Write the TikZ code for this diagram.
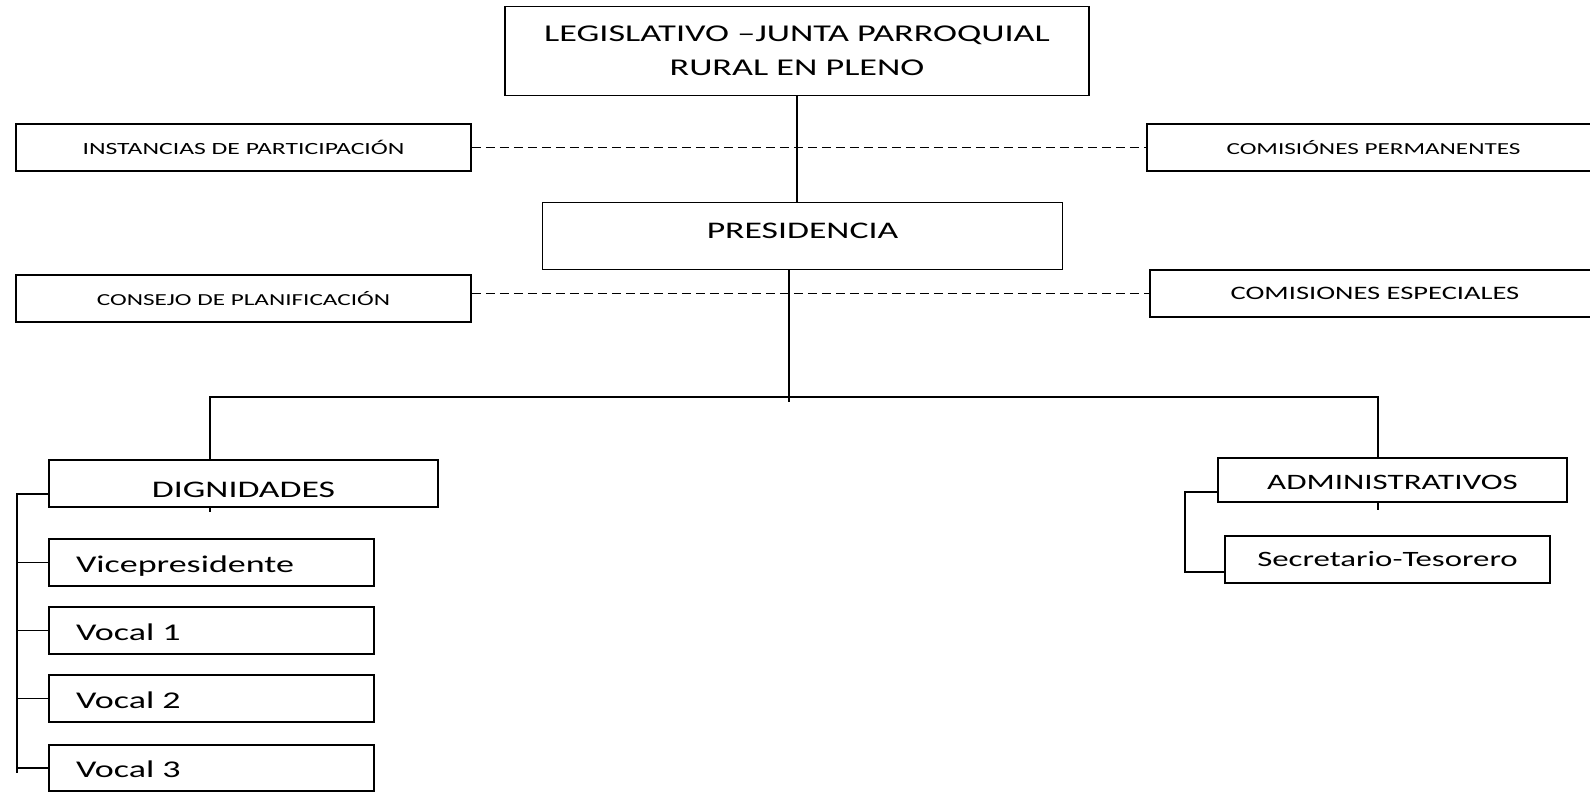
\documentclass[tikz,border=0pt]{standalone}
\usepackage{fontspec}
\setmainfont{Carlito}[FakeStretch=1.5]
\begin{document}
\begin{tikzpicture}[x=1pt,y=-1pt,
 caja/.style={draw,line width=1.9pt,inner sep=0pt,align=center},
 cargo/.style={caja,minimum width=325,minimum height=47,text width=271pt,inner xsep=27pt,align=left,font=\fontsize{24}{28}\selectfont,text height=21pt,text depth=2pt},
 linea/.style={line width=1.9pt},
 punteada/.style={line width=1.5pt,dash pattern=on 9pt off 5pt},
 grande/.style={font=\fontsize{24.1}{34}\selectfont},
 chica/.style={font=\fontsize{16.8}{20}\selectfont}]
 \useasboundingbox (0,0) rectangle (1590,792);
 % cabeza
 \node [caja,grande,minimum width=584,minimum height=89] (legislativo) at (797,51) {LEGISLATIVO –JUNTA PARROQUIAL\\RURAL EN PLENO};
 \node [caja,font=\fontsize{23.8}{34}\selectfont,minimum width=520,minimum height=67,text height=15pt,text depth=11pt] (presidencia) at (802.5,236) {PRESIDENCIA};
 \node [caja,font=\fontsize{17.1}{20}\selectfont,minimum width=455,minimum height=47] (instancias) at (243.5,147.5) {INSTANCIAS DE PARTICIPACIÓN};
 \node [caja,chica,minimum width=453,minimum height=47] (permanentes) at (1373.5,147.5) {COMISIÓNES PERMANENTES};
 \node [caja,chica,minimum width=455,minimum height=47] (consejo) at (243.5,298.5) {CONSEJO DE PLANIFICACIÓN};
 \node [caja,font=\fontsize{19}{22}\selectfont,minimum width=450,minimum height=47] (especiales) at (1375,293.5) {COMISIONES ESPECIALES};
 \draw [linea] (legislativo.south) -- (legislativo.south |- presidencia.north);
 \draw [punteada] (instancias.east) -- (permanentes.west);
 \draw [punteada] (consejo.east |- especiales.west) -- (especiales.west);
 % ramas
 \coordinate (nudo) at (789,402);
 \coordinate (izq) at (210,397);
 \coordinate (der) at (1378,397);
 \node [caja,font=\fontsize{23.8}{34}\selectfont,minimum width=389,minimum height=47,text height=27pt,text depth=0pt] (dignidades) at (243.5,483.5) {DIGNIDADES};
 \node [caja,font=\fontsize{22}{26}\selectfont,minimum width=349,minimum height=44,text height=19pt,text depth=0pt] (administrativos) at (1392.5,480) {ADMINISTRATIVOS};
 \draw [linea] (presidencia.south -| nudo) -- (nudo);
 \draw [linea] (dignidades.north -| izq) |- (der) -- (administrativos.north -| der);
 \draw [linea] (dignidades.south -| izq) -- ++(0,4);
 \draw [linea] (administrativos.south -| der) -- ++(0,7);
 % dignidades
 \node [cargo] (vicepresidente) at (211.5,562.5) {Vicepresidente};
 \node [cargo] (vocal1) at (211.5,630.5) {Vocal 1};
 \node [cargo] (vocal2) at (211.5,698.5) {Vocal 2};
 \node [cargo,minimum height=46] (vocal3) at (211.5,768) {Vocal 3};
 \coordinate (espina) at (17,773);
 \draw [linea] ([yshift=-10.5pt]dignidades.west) -| (espina);
 \foreach \n in {vicepresidente,vocal1,vocal2,vocal3}
  \draw [linea] (\n.west) -- (\n.west -| espina);
 % administrativos
 \node [caja,font=\fontsize{21.9}{25}\selectfont,minimum width=325,minimum height=47] (secretario) at (1387.5,559.5) {Secretario-Tesorero};
 \coordinate (espinader) at (1185,572);
 \draw [linea] ([yshift=-12pt]administrativos.west) -| (espinader) -- (espinader -| secretario.west);
\end{tikzpicture}
\end{document}
